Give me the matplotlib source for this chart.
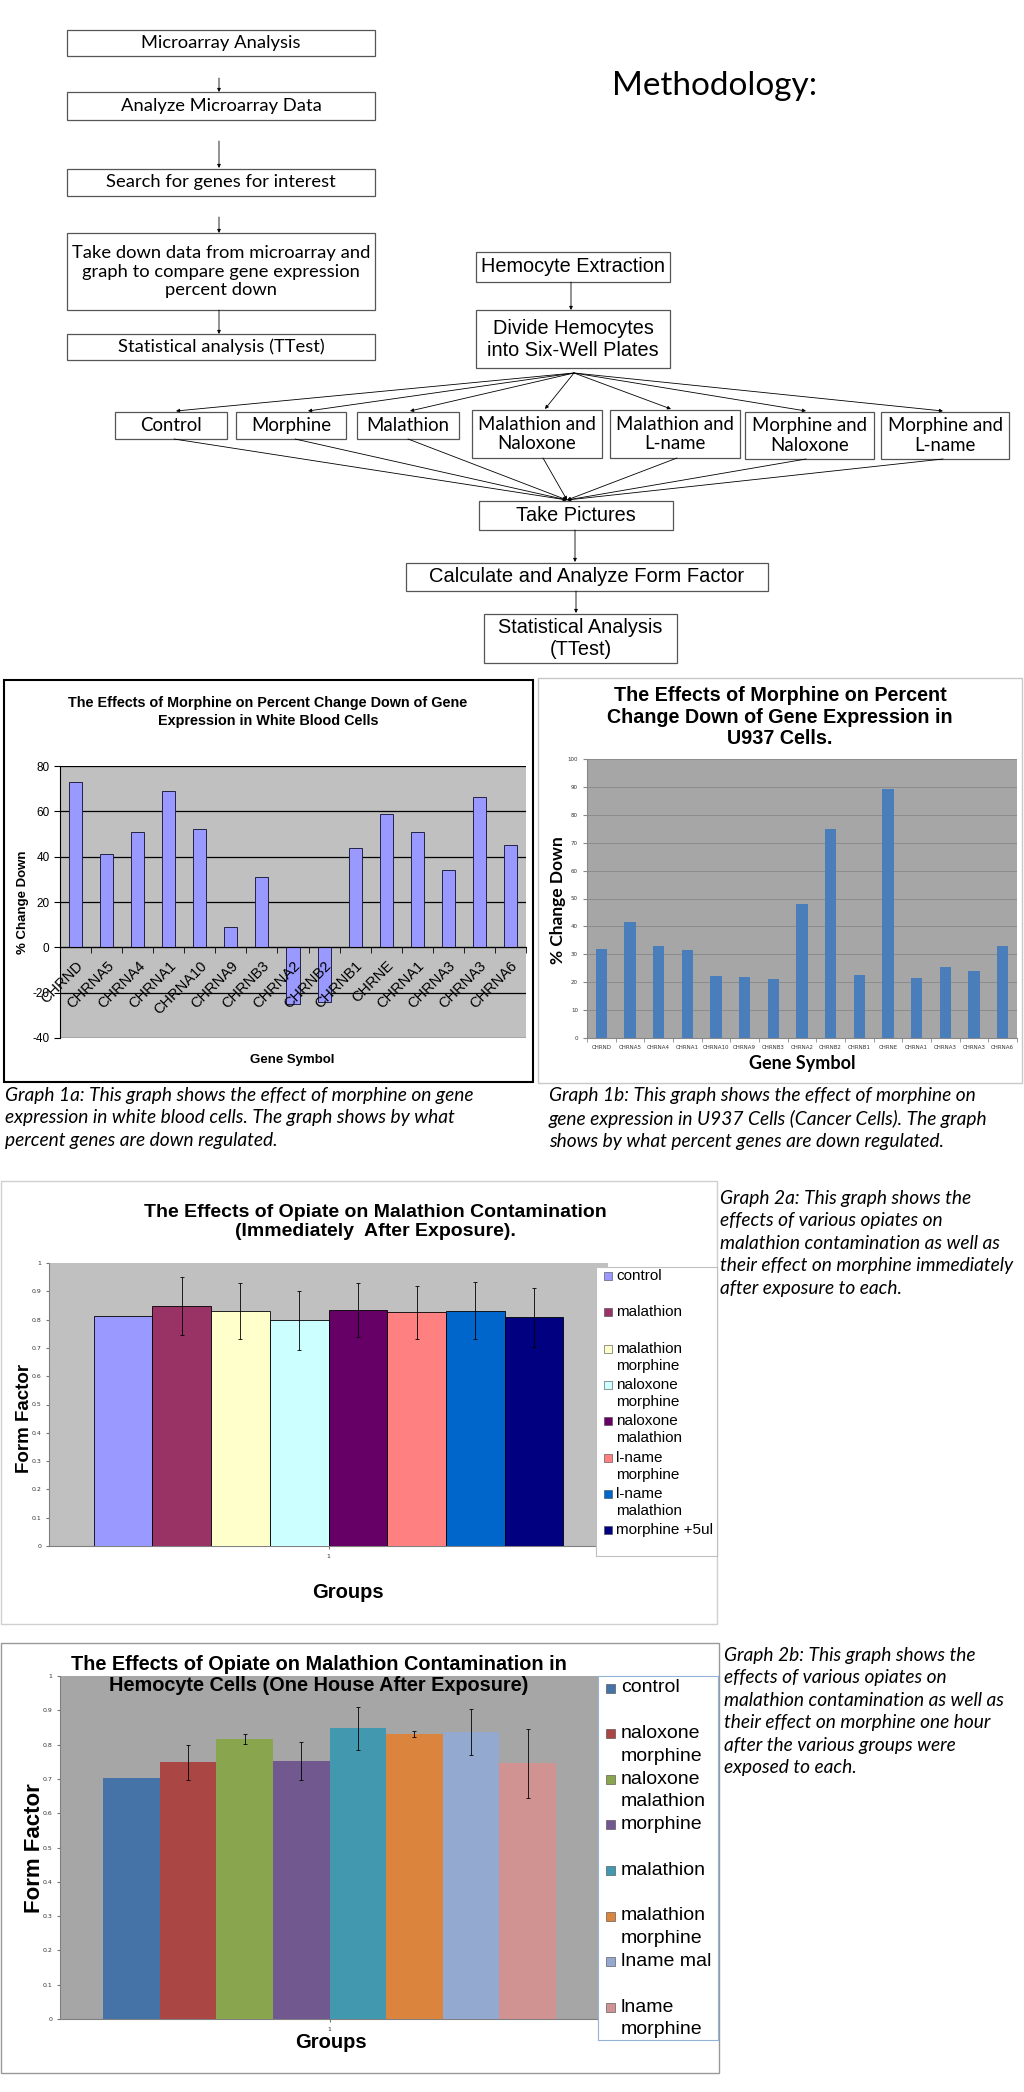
import matplotlib
matplotlib.use("Agg")
import numpy as np
import matplotlib.pyplot as plt
from matplotlib.patches import Rectangle
from matplotlib.ticker import FixedLocator

plt.rcParams["axes.unicode_minus"] = False

# ── Data ──────────────────────────────────────────────────────────────────────

GENES = ["CHRND", "CHRNA5", "CHRNA4", "CHRNA1", "CHRNA10", "CHRNA9", "CHRNB3", "CHRNA2",
         "CHRNB2", "CHRNB1", "CHRNE", "CHRNA1", "CHRNA3", "CHRNA3", "CHRNA6"]
WBC_DOWN  = [73, 41, 51, 69, 52, 9, 31, -25, -24, 44, 59, 51, 34, 66.5, 45]
U937_DOWN = [32, 41.7, 33, 31.7, 22.2, 21.9, 21.1, 48, 75, 22.5, 89.2, 21.6, 25.3, 24, 33]

GROUPS_2A = ["control", "malathion", "malathion\nmorphine", "naloxone\nmorphine",
             "naloxone\nmalathion", "l-name\nmorphine", "l-name\nmalathion", "morphine +5ul"]
FF_2A  = [0.812, 0.848, 0.830, 0.798, 0.835, 0.826, 0.832, 0.808]
ERR_2A = [0, 0.103, 0.100, 0.104, 0.095, 0.094, 0.102, 0.105]
COLORS_2A = ["#9999FF", "#993366", "#FFFFCC", "#CCFFFF", "#660066", "#FF8080", "#0066CC", "#000080"]

GROUPS_2B = ["control", "naloxone\nmorphine", "naloxone\nmalathion", "morphine", "malathion",
             "malathion\nmorphine", "lname mal", "lname\nmorphine"]
FF_2B  = [0.704, 0.749, 0.817, 0.753, 0.847, 0.832, 0.838, 0.745]
ERR_2B = [0, 0.051, 0.015, 0.055, 0.064, 0.009, 0.067, 0.100]
COLORS_2B = ["#4572A7", "#AA4643", "#89A54E", "#71588F", "#4198AF", "#DB843D", "#93A9CF", "#D19392"]

LEFT_STEPS = ["Microarray Analysis", "Analyze Microarray Data", "Search for genes for interest",
              "Take down data from microarray and\ngraph to compare gene expression\npercent down",
              "Statistical analysis (TTest)"]
TREATMENTS = ["Control", "Morphine", "Malathion", "Malathion and\nNaloxone", "Malathion and\nL-name",
              "Morphine and\nNaloxone", "Morphine and\nL-name"]

CAP_1A = ("Graph 1a: This graph shows the effect of morphine on gene\n"
          "expression in white blood cells. The graph shows by what\n"
          "percent genes are down regulated.")
CAP_1B = ("Graph 1b: This graph shows the effect of morphine on\n"
          "gene expression in U937 Cells (Cancer Cells). The graph\n"
          "shows by what percent genes are down regulated.")
CAP_2A = ("Graph 2a: This graph shows the\neffects of various opiates on\n"
          "malathion contamination as well as\ntheir effect on morphine immediately\n"
          "after exposure to each.")
CAP_2B = ("Graph 2b: This graph shows the\neffects of various opiates on\n"
          "malathion contamination as well as\ntheir effect on morphine one hour\n"
          "after the various groups were\nexposed to each.")

# ── Layout helpers (pixel coordinates, origin top-left) ──────────────────────

W, H = 1024, 2092
ARIAL, CALIBRI = "Liberation Sans", "Lato"

fig = plt.figure(figsize=(W / 100, H / 100), dpi=100, facecolor="white")


def axes_px(x0, y0, x1, y1, **kw):
    return fig.add_axes([x0 / W, 1 - y1 / H, (x1 - x0) / W, (y1 - y0) / H], **kw)


def ft(x, y, s, **kw):
    return fig.text(x / W, 1 - y / H, s, **kw)


ov = fig.add_axes([0, 0, 1, 1], zorder=-1)
ov.set_xlim(0, W); ov.set_ylim(H, 0); ov.axis("off")


def box(x0, y0, x1, y1, text, font, size):
    ov.add_patch(Rectangle((x0, y0), x1 - x0, y1 - y0, fill=False, ec="#555555", lw=0.9))
    ov.text((x0 + x1) / 2, (y0 + y1) / 2, text, ha="center", va="center",
            family=font, fontsize=size, linespacing=1.2)


def arrow(x0, y0, x1, y1):
    ov.annotate("", xy=(x1, y1), xytext=(x0, y0),
                arrowprops=dict(arrowstyle="-|>", lw=0.6, color="black",
                                mutation_scale=5, shrinkA=0, shrinkB=0))


# ── Flowchart ─────────────────────────────────────────────────────────────────

left_y = [(30, 56), (92, 120), (169, 196), (233, 310), (334, 360)]
for label, (y0, y1) in zip(LEFT_STEPS, left_y):
    box(67, y0, 375, y1, label, CALIBRI, 13.2)
for ya, yb in [(78, 92), (141, 168), (217, 233), (310, 334)]:
    arrow(219, ya, 219, yb)

ov.text(715, 86, "Methodology:", ha="center", va="center", family=CALIBRI, fontsize=24)

box(476, 252, 670, 282, "Hemocyte Extraction", ARIAL, 14.3)
box(476, 310, 670, 368, "Divide Hemocytes\ninto Six-Well Plates", ARIAL, 14.3)
arrow(571, 282, 571, 310)

row_x = [(115, 227), (236, 346), (357, 459), (472, 602), (610, 740), (745, 874), (881, 1009)]
row_y = [(412, 439), (412, 439), (412, 439), (410, 458), (410, 458), (412, 459), (412, 459)]
fan_end = [176, 308, 410, 545, 671, 806, 943]
fan_start = [174, 295, 408, 543, 677, 806, 943]
for label, (x0, x1), (y0, y1), xe, xs in zip(TREATMENTS, row_x, row_y, fan_end, fan_start):
    box(x0, y0, x1, y1, label, CALIBRI, 13.4)
    arrow(574, 373, xe, y0 - 1)
    arrow(xs, y1, 567, 500)

box(479, 501, 673, 530, "Take Pictures", ARIAL, 14.3)
box(406, 563, 768, 591, "Calculate and Analyze Form Factor", ARIAL, 14.5)
box(484, 614, 677, 663, "Statistical Analysis\n(TTest)", ARIAL, 14.3)
arrow(575, 530, 575, 562)
arrow(576, 591, 576, 613)

# panel borders
ov.add_patch(Rectangle((4, 680), 529, 402, fill=False, ec="black", lw=1.5))
ov.add_patch(Rectangle((538, 678), 484, 405, fill=False, ec="#c8c8c8", lw=1))
ov.add_patch(Rectangle((0.5, 1181), 716, 443, fill=False, ec="#d0d0d0", lw=1))
ov.add_patch(Rectangle((0.5, 1643), 718, 430, fill=False, ec="#999999", lw=1))

# ── Graph 1a ──────────────────────────────────────────────────────────────────

x = np.arange(len(GENES))
ax = axes_px(60, 766, 526, 1038)
ax.set_facecolor("#C0C0C0")
ax.bar(x, WBC_DOWN, width=0.42, color="#9999FF", edgecolor="#222244", lw=0.7, zorder=1)
ax.set_xlim(-0.5, len(GENES) - 0.5)
ax.set_ylim(-40, 80)
ax.set_yticks(range(-40, 81, 20))
# grid under the bars, tick labels above them (as in Excel)
for yv in ax.get_yticks():
    ax.axhline(yv, color="black", lw=0.9, zorder=0.5)
ax.set_axisbelow(False)
for s in ["top", "right"]:
    ax.spines[s].set_visible(False)
ax.spines["bottom"].set_position(("data", 0))
ax.spines["left"].set_color("black")
ax.set_xticks(x)
ax.set_xticklabels(GENES, rotation=45, ha="right", va="top", rotation_mode="anchor",
                   family=ARIAL, fontsize=10.5)
ax.xaxis.set_minor_locator(FixedLocator(np.arange(-0.5, len(GENES), 1)))
ax.tick_params(axis="x", which="major", length=0, pad=8)
ax.tick_params(axis="x", which="minor", length=4, direction="out")
ax.tick_params(axis="y", length=4, labelsize=8.5)
for t in ax.get_yticklabels():
    t.set_family(ARIAL)

ft(268, 712, "The Effects of Morphine on Percent Change Down of Gene\nExpression in White Blood Cells",
   ha="center", va="center", family=ARIAL, fontsize=10.4, weight="bold", linespacing=1.4)
ft(23, 902, "% Change Down", rotation=90, ha="center", va="center",
   family=ARIAL, fontsize=9.5, weight="bold")
ft(292, 1060, "Gene Symbol", ha="center", va="center", family=ARIAL, fontsize=9.5, weight="bold")

# ── Graph 1b ──────────────────────────────────────────────────────────────────

ax = axes_px(587, 759, 1017, 1038)
ax.set_facecolor("#A6A6A6")
ax.bar(x, U937_DOWN, width=0.4, color="#4A7EBB", zorder=3)
ax.set_xlim(-0.5, len(GENES) - 0.5)
ax.set_ylim(0, 100)
ax.set_yticks(range(0, 101, 10))
ax.yaxis.grid(True, color="#8C8C8C", lw=0.7)
ax.set_axisbelow(True)
for s in ["top", "right"]:
    ax.spines[s].set_visible(False)
for s in ["left", "bottom"]:
    ax.spines[s].set_color("#888888")
ax.set_xticks(x)
ax.set_xticklabels(GENES, fontsize=4, color="#333333")
ax.xaxis.set_minor_locator(FixedLocator(np.arange(-0.5, len(GENES), 1)))
ax.tick_params(axis="x", which="major", length=0, pad=5)
ax.tick_params(axis="x", which="minor", length=3, color="#888888")
ax.tick_params(axis="y", length=3, color="#888888", labelsize=4, labelcolor="#333333")

ft(780, 717, "The Effects of Morphine on Percent\nChange Down of Gene Expression in\nU937 Cells.",
   ha="center", va="center", family=ARIAL, fontsize=14.2, weight="bold", linespacing=1.15)
ft(558, 900, "% Change Down", rotation=90, ha="center", va="center",
   family=CALIBRI, fontsize=12.5, weight="bold")
ft(802, 1064, "Gene Symbol", ha="center", va="center", family=CALIBRI, fontsize=13, weight="bold")

# captions
cap_kw = dict(ha="left", va="top", family=CALIBRI, style="italic", fontsize=13.8, linespacing=1.39)
ft(5, 1087, CAP_1A, **cap_kw)
ft(549, 1087, CAP_1B, **cap_kw)
ft(720, 1190, CAP_2A, **cap_kw)
ft(724, 1647, CAP_2B, **cap_kw)


# ── Graphs 2a / 2b ────────────────────────────────────────────────────────────

def form_factor_chart(rect, values, errs, colors, face, edge):
    ax = axes_px(*rect)
    ax.set_facecolor(face)
    n = len(values)
    w = 0.84 / n
    pos = 1 + (np.arange(n) - (n - 1) / 2) * w
    ax.bar(pos, values, width=w, color=colors, edgecolor=edge, lw=0.6 if edge else 0, zorder=3)
    e = np.array(errs)
    m = e > 0
    ax.errorbar(pos[m], np.array(values)[m], yerr=e[m], fmt="none", ecolor="black",
                elinewidth=0.6, capsize=1.5, capthick=0.6, zorder=4)
    ax.set_xlim(0.5, 1.5)
    ax.set_ylim(0, 1)
    ax.set_yticks(np.arange(0, 1.01, 0.1))
    ax.set_yticklabels(["0"] + [f"{v:.1f}" for v in np.arange(0.1, 0.95, 0.1)] + ["1"])
    ax.set_xticks([1])
    ax.set_xticklabels(["1"])
    ax.tick_params(labelsize=4.5, length=2, color="#777777", labelcolor="#333333")
    for s in ["top", "right"]:
        ax.spines[s].set_visible(False)
    for s in ["left", "bottom"]:
        ax.spines[s].set_color("#808080")
    return ax


def legend_box(rect, labels, colors, first, step, gap, size, mx, tx, msz, border):
    lg = axes_px(*rect)
    lg.set_xlim(rect[0], rect[2]); lg.set_ylim(rect[3], rect[1])
    lg.set_xticks([]); lg.set_yticks([])
    for s in lg.spines.values():
        s.set_color(border)
    for i, (lab, c) in enumerate(zip(labels, colors)):
        yc = first + i * step
        lg.add_patch(Rectangle((mx, yc - msz / 2), msz, msz, fc=c, ec="#444444", lw=0.4))
        lines = lab.split("\n")
        for k, line in enumerate(lines):
            lg.text(tx, yc + k * gap, line, ha="left", va="center", family=ARIAL, fontsize=size)


form_factor_chart((49, 1263, 608, 1546), FF_2A, ERR_2A, COLORS_2A, "#C0C0C0", "black")
legend_box((596, 1267, 717, 1556), GROUPS_2A, COLORS_2A, 1276, 36.3, 17, 11, 604, 616, 8, "#c0c0c0")
ft(375, 1222, "The Effects of Opiate on Malathion Contamination\n(Immediately  After Exposure).",
   ha="center", va="center", family=ARIAL, fontsize=14, weight="bold", linespacing=1.15)
ft(25, 1418, "Form Factor", rotation=90, ha="center", va="center", family=ARIAL,
   fontsize=13.5, weight="bold")
ft(348, 1593, "Groups", ha="center", va="center", family=ARIAL, fontsize=14.5, weight="bold")

form_factor_chart((60, 1676, 599, 2019), FF_2B, ERR_2B, COLORS_2B, "#A6A6A6", None)
legend_box((598, 1676, 718, 2040), GROUPS_2B, COLORS_2B, 1688, 45.6, 22.7, 14, 606, 621, 9, "#95B3D7")
ft(319, 1675, "The Effects of Opiate on Malathion Contamination in\nHemocyte Cells (One House After Exposure)",
   ha="center", va="center", family=ARIAL, fontsize=14.3, weight="bold", linespacing=1.12)
ft(34, 1848, "Form Factor", rotation=90, ha="center", va="center", family=ARIAL,
   fontsize=16, weight="bold")
ft(331, 2043, "Groups", ha="center", va="center", family=ARIAL, fontsize=14.5, weight="bold")

fig.savefig("out.png", dpi=100, facecolor="white")
